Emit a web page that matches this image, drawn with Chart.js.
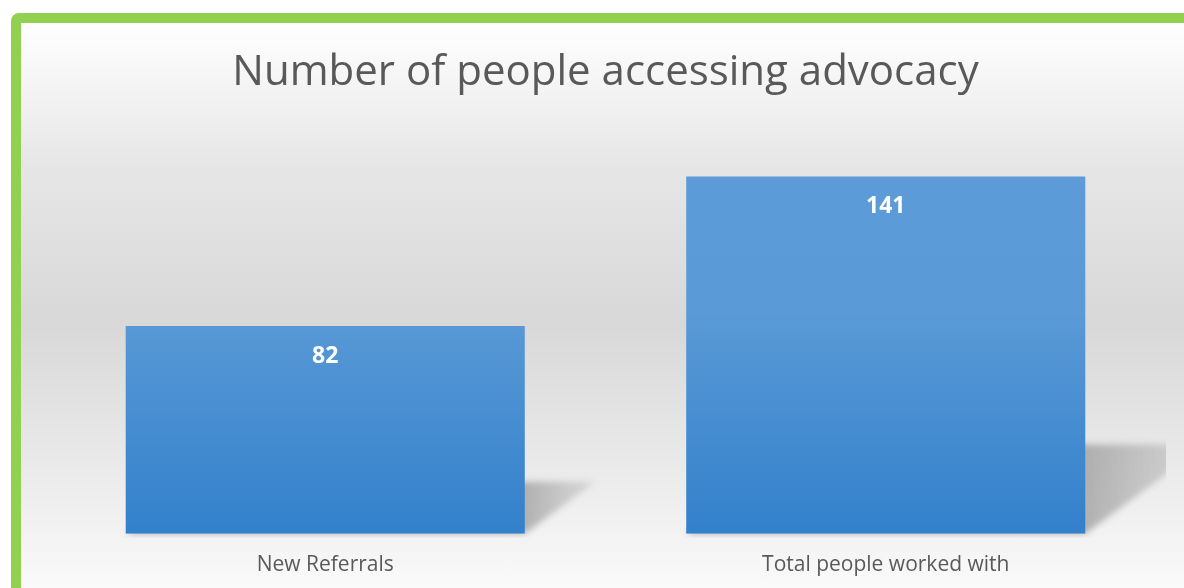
<!DOCTYPE html>
<html>
<head>
<meta charset="utf-8">
<script src="https://cdn.jsdelivr.net/npm/chart.js@4.4.0/dist/chart.umd.min.js"></script>
<style>
    html, body { margin: 0; padding: 0; width: 1184px; height: 588px; overflow: hidden; background: #fff; }
    #frame {
        position: absolute; left: 11px; top: 13px;
        width: 1168px; height: 575px;
        border: 10px solid #92d050; border-radius: 8px;
        background: linear-gradient(to bottom, #ffffff 0%, #e6e6e6 25%, #d8d8d8 52%, #ececec 80%, #fbfbfb 100%);
    }
    #chart { display: block; }
</style>
</head>
<body>
<div id="frame"><canvas id="chart" width="1168" height="566"></canvas></div>
<script>
// dữ liệu
const categories = ['New Referrals', 'Total people worked with'];
const values = [82, 141];
const chartTitle = 'Number of people accessing advocacy';

// bóng đổ phía sau cột
const barShadow = {
    id: 'barShadow',
    beforeDatasetsDraw(chart) {
        const ctx = chart.ctx;
        const area = chart.chartArea;
        ctx.save();
        ctx.beginPath();
        ctx.rect(area.left, area.top, area.right - area.left, area.bottom - area.top + 4);
        ctx.clip();
        chart.getDatasetMeta(0).data.forEach(bar => {
            const left = bar.x - bar.width / 2;
            const right = bar.x + bar.width / 2;
            const h = bar.base - bar.y;
            const sh = h * 0.25, dx = h * 0.34;
            const g = ctx.createLinearGradient(right, 0, right + dx, 0);
            g.addColorStop(0, 'rgba(150,150,150,0.7)');
            g.addColorStop(1, 'rgba(170,170,170,0.3)');
            ctx.filter = 'blur(3px)';
            ctx.fillStyle = g;
            ctx.beginPath();
            ctx.moveTo(left, bar.base);
            ctx.lineTo(left + dx, bar.base - sh);
            ctx.lineTo(right + dx, bar.base - sh);
            ctx.lineTo(right, bar.base);
            ctx.closePath();
            ctx.fill();
        });
        ctx.restore();
    }
};

// nhãn giá trị bên trong cột
const valueLabels = {
    id: 'valueLabels',
    afterDatasetsDraw(chart) {
        const ctx = chart.ctx;
        ctx.save();
        ctx.fillStyle = '#ffffff';
        ctx.font = 'bold 23px "Open Sans"';
        ctx.textAlign = 'center';
        ctx.textBaseline = 'middle';
        chart.getDatasetMeta(0).data.forEach((bar, i) => {
            ctx.fillText(values[i], bar.x, bar.y + 30);
        });
        ctx.restore();
    }
};

const canvas = document.getElementById('chart');
const ctx = canvas.getContext('2d');

new Chart(ctx, {
    type: 'bar',
    data: {
        labels: categories,
        datasets: [{
            data: values,
            backgroundColor: (c) => {
                const a = c.chart.chartArea;
                if (!a) return '#4a8fd2';
                const g = c.chart.ctx.createLinearGradient(0, a.top, 0, a.bottom);
                g.addColorStop(0, '#5d9cd8');
                g.addColorStop(0.45, '#5a9ad6');
                g.addColorStop(1, '#3380cb');
                return g;
            },
            borderWidth: 0,
            categoryPercentage: 0.712,
            barPercentage: 1
        }]
    },
    options: {
        responsive: false,
        animation: false,
        layout: { padding: { left: 24, right: 23, top: 0, bottom: 0 } },
        plugins: {
            legend: { display: false },
            tooltip: { enabled: false },
            title: {
                display: true,
                text: chartTitle,
                color: '#595959',
                font: { family: '"Open Sans"', size: 42, weight: 'normal' },
                padding: { top: 25, bottom: 30 }
            }
        },
        scales: {
            x: {
                grid: { display: false },
                border: { display: false },
                ticks: { color: '#595959', font: { family: '"Open Sans"', size: 21 }, padding: 11 }
            },
            y: {
                display: false,
                min: 0,
                max: 160
            }
        }
    },
    plugins: [barShadow, valueLabels]
});
</script>
</body>
</html>
